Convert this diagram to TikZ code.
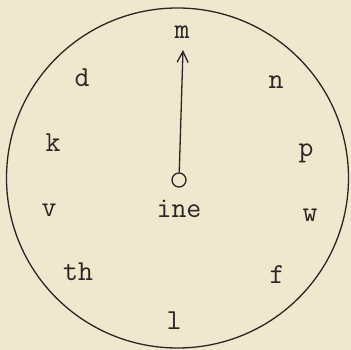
\documentclass[tikz,border=0pt]{standalone}
\usepackage{tikz}
\usetikzlibrary{arrows.meta}
\definecolor{paper}{HTML}{EFE7CE}
\definecolor{ink}{HTML}{2B2622}

\begin{document}
\begin{tikzpicture}[x=1pt, y=1pt,
  letter/.style={anchor=base, inner sep=0pt, text=ink,
                 font=\fontsize{29}{29}\selectfont\ttfamily}]
  \fill[paper] (0,0) rectangle (351,350);
  \useasboundingbox (0,0) rectangle (351,350);
  \draw[ink, line width=1.3pt] (177.5,172) circle [x radius=171, y radius=170];
  \foreach \name/\x/\y in {m/182/311, d/82/263, n/276/261, k/53/198, p/306/193,
                           v/49/133, ine/179/132, w/310/128, th/78/69, f/277/66, l/174/20}
    \node[letter] (\name) at (\x,\y) {\name};
  \node[draw=ink, line width=1.3pt, circle, minimum size=14pt, inner sep=0pt] (hub) at (179,170) {};
  \coordinate (tip) at (183,300);
  \draw[ink, line width=1.3pt, -{Straight Barb[length=11pt,width=11pt]}] (hub) -- (tip);
\end{tikzpicture}
\end{document}
